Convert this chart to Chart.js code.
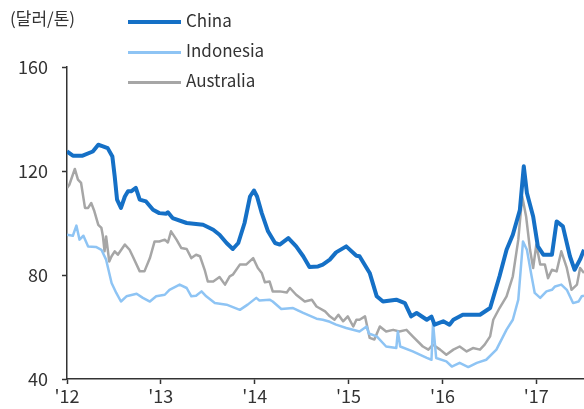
<!DOCTYPE html>
<html>
<head>
<meta charset="utf-8">
<script src="https://cdn.jsdelivr.net/npm/chart.js@4"></script>
<style>
    html, body { margin: 0; padding: 0; background: #fff; }
    #wrap { position: relative; width: 584px; height: 409px; font-family: "Noto Sans CJK KR", "Noto Sans", sans-serif; color: #333; }
    #unit { position: absolute; left: 10px; top: 5px; font-size: 17px; }
    .leg { position: absolute; left: 128px; font-size: 17px; }
    .leg span { display: inline-block; width: 53px; vertical-align: middle; margin-right: 5px; }
</style>
</head>
<body>
<div id="wrap">
    <canvas id="coalChart" width="584" height="409"></canvas>
    <div id="unit">(달러/톤)</div>
    <div class="leg" style="top:7px"><span style="border-top:4px solid #1570c6"></span>China</div>
    <div class="leg" style="top:37px"><span style="border-top:3px solid #8ec4f4"></span>Indonesia</div>
    <div class="leg" style="top:67px"><span style="border-top:3px solid #a6a6a6"></span>Australia</div>
</div>
<script>
// x positions are months since Jan 2012
const yearTicks = ["'12", "'13", "'14", "'15", "'16", "'17"];

const chinaMonths = [0, 0.75, 2.0, 3.3, 4.0, 4.6, 5.2, 5.8, 6.1, 6.4, 6.9, 7.4, 7.8, 8.2, 8.8, 9.3, 10.1, 11.0, 11.8, 12.7, 12.9, 13.5, 15.3, 17.4, 18.7, 19.5, 20.4, 21.2, 21.9, 22.7, 23.4, 23.9, 24.3, 24.9, 25.7, 26.6, 27.2, 28.3, 29.3, 30.2, 31.0, 32.1, 32.7, 33.6, 34.4, 35.7, 37.0, 37.4, 38.7, 39.6, 40.4, 42.1, 43.2, 44.0, 44.7, 46.0, 46.6, 47.0, 48.1, 48.9, 49.4, 50.6, 52.8, 54.1, 55.3, 56.2, 57.0, 57.9, 58.4, 58.8, 59.6, 60.2, 60.9, 62.0, 62.6, 63.4, 64.3, 64.9, 65.6, 66.1];
const chinaValues = [127.5, 125.9, 125.9, 127.5, 130.1, 129.5, 128.8, 125.6, 117.9, 109, 105.8, 110.2, 112.2, 112.2, 113.5, 109, 108.3, 105.1, 103.8, 103.6, 104.1, 101.9, 100, 99.3, 97.4, 95.5, 92.3, 90, 92.3, 100, 110.2, 112.5, 110.2, 103.8, 96.8, 92.3, 91.7, 94.2, 91, 87.2, 83.1, 83.3, 84, 85.9, 88.7, 91, 87.4, 87.2, 80.8, 71.8, 69.8, 70.5, 69.2, 64.1, 65.4, 62.8, 64, 60.9, 62.2, 60.9, 62.8, 64.7, 64.7, 67.3, 79.5, 89.7, 95.5, 105, 121.8, 111.5, 102.5, 91, 87.8, 87.8, 100.6, 98.7, 87.2, 82, 86, 89.7];

const indonesiaMonths = [0, 0.75, 1.2, 1.6, 2.1, 2.7, 3.7, 4.4, 5.0, 5.7, 6.3, 6.9, 7.6, 8.9, 9.7, 10.6, 11.4, 12.5, 13.1, 14.4, 15.3, 15.9, 16.5, 17.2, 17.8, 18.9, 20.4, 22.1, 23.1, 24.2, 24.6, 25.9, 26.3, 27.4, 28.9, 30.2, 31.9, 32.7, 33.6, 34.4, 35.7, 37.4, 38.3, 38.6, 39.6, 40.8, 42.1, 42.3, 42.6, 44.2, 46.0, 46.6, 46.8, 47.2, 48.5, 49.2, 50.2, 51.3, 52.4, 53.6, 54.9, 56.2, 57.0, 57.7, 58.3, 58.8, 59.4, 59.8, 60.5, 61.3, 62.0, 62.4, 63.2, 63.9, 64.7, 65.4, 65.8, 66.1];
const indonesiaValues = [95.5, 95.1, 99, 93.6, 95.1, 91, 90.8, 89.7, 85.9, 76.9, 73.1, 69.8, 71.8, 72.8, 71.2, 69.8, 71.8, 72.4, 74.3, 76.3, 75, 71.8, 72, 73.7, 71.8, 69.2, 68.6, 66.6, 68.6, 71.2, 70.2, 70.5, 69.8, 66.9, 67.3, 65.4, 63.2, 62.8, 62, 60.9, 59.6, 58.3, 60.2, 57.5, 56.4, 52.5, 51.9, 58.3, 52.5, 50.6, 48.1, 47.4, 61.5, 48.1, 46.8, 44.8, 46.2, 44.6, 46.2, 47.4, 51.3, 59, 62.8, 70.5, 92.9, 89.7, 79.5, 73.1, 71.2, 73.7, 74.3, 75.6, 76.3, 74.3, 69.2, 69.8, 71.8, 72];

const australiaMonths = [0, 0.3, 1.0, 1.4, 1.8, 2.3, 2.7, 3.1, 3.5, 4.0, 4.4, 4.6, 4.8, 5.0, 5.4, 5.7, 6.1, 6.5, 7.4, 8.0, 8.4, 9.3, 9.9, 10.6, 11.2, 11.8, 12.5, 12.9, 13.3, 14.0, 14.6, 15.3, 15.9, 16.5, 17.0, 17.6, 18.0, 18.7, 19.5, 20.2, 20.8, 21.2, 22.1, 22.9, 23.8, 24.4, 24.9, 25.3, 25.9, 26.3, 27.2, 28.1, 28.5, 29.3, 30.4, 31.3, 31.9, 33.0, 33.6, 34.2, 34.7, 35.3, 35.9, 36.6, 37.0, 37.4, 38.1, 38.7, 39.3, 40.0, 40.8, 41.7, 42.5, 43.4, 44.2, 45.5, 46.2, 46.8, 47.7, 48.5, 49.4, 50.2, 51.1, 51.9, 52.8, 53.4, 54.1, 54.5, 55.3, 56.2, 57.0, 57.7, 58.2, 58.7, 59.2, 59.6, 60.0, 60.5, 61.1, 61.5, 62.0, 62.6, 63.2, 63.9, 64.5, 65.2, 65.6, 66.1];
const australiaValues = [113.5, 114.7, 120.8, 116.7, 115.4, 105.8, 105.8, 107.7, 104.5, 99.3, 98.1, 94.8, 89.1, 94.8, 85.2, 87.2, 89.1, 87.8, 91.7, 89.7, 87.2, 81.4, 81.4, 86.5, 92.9, 92.9, 93.6, 92.5, 96.8, 93.6, 90.4, 90, 86.5, 87.8, 87.2, 82, 77.5, 77.5, 79.2, 76.3, 79.5, 80.1, 84, 84, 86.5, 82.7, 80.8, 77.2, 77.5, 73.7, 73.7, 73.3, 75, 72.4, 69.8, 70.5, 67.9, 66, 64.1, 62.8, 64.7, 62.2, 64.1, 60.2, 62.8, 62.8, 64.1, 55.8, 55.2, 60.2, 58.3, 58.9, 58.3, 58.9, 56.4, 52.5, 51.3, 53.2, 51.3, 49.3, 51.3, 52.5, 50.6, 51.9, 51.3, 53.2, 56.4, 62.8, 67.3, 71.8, 79.5, 93.6, 110.2, 102.5, 89.7, 82.7, 91.7, 84, 84, 78.8, 82, 81.4, 89.1, 82.7, 74.3, 76.3, 82.7, 80.8];

const toPoints = (months, values) => months.map((m, i) => ({ x: m, y: values[i] }));

const axisColor = '#333';
const tickFont = { family: '"Noto Sans CJK KR", "Noto Sans", sans-serif', size: 18 };

const ctx = document.getElementById('coalChart').getContext('2d');
new Chart(ctx, {
    type: 'line',
    data: {
        datasets: [
            {
                label: 'China',
                data: toPoints(chinaMonths, chinaValues),
                borderColor: '#1570c6',
                borderWidth: 4
            },
            {
                label: 'Indonesia',
                data: toPoints(indonesiaMonths, indonesiaValues),
                borderColor: '#8ec4f4',
                borderWidth: 2.5
            },
            {
                label: 'Australia',
                data: toPoints(australiaMonths, australiaValues),
                borderColor: '#a6a6a6',
                borderWidth: 2.5
            }
        ]
    },
    options: {
        responsive: false,
        animation: false,
        elements: { point: { radius: 0 }, line: { tension: 0, borderJoinStyle: 'round' } },
        layout: { padding: { top: 67, right: 0, left: 0, bottom: 0 } },
        plugins: { legend: { display: false }, tooltip: { enabled: false } },
        scales: {
            x: {
                type: 'linear',
                min: 0,
                max: 66.1,
                afterFit: (scale) => { scale.height = 30; },
                afterBuildTicks: (scale) => {
                    scale.ticks = yearTicks.map((t, i) => ({ value: i * 12 }));
                },
                ticks: {
                    callback: (value) => yearTicks[Math.round(value / 12)],
                    color: axisColor,
                    font: tickFont,
                    padding: 1,
                    maxRotation: 0
                },
                grid: { drawOnChartArea: false, tickLength: 5, color: axisColor, tickWidth: 1.5 },
                border: { color: axisColor, width: 1.5 }
            },
            y: {
                min: 40,
                max: 160,
                afterFit: (scale) => { scale.width = 67; },
                ticks: {
                    stepSize: 40,
                    color: axisColor,
                    font: tickFont,
                    padding: 14
                },
                grid: { drawOnChartArea: false, tickLength: 5, color: axisColor, tickWidth: 1.5 },
                border: { color: axisColor, width: 1.5 }
            }
        }
    }
});
</script>
</body>
</html>
